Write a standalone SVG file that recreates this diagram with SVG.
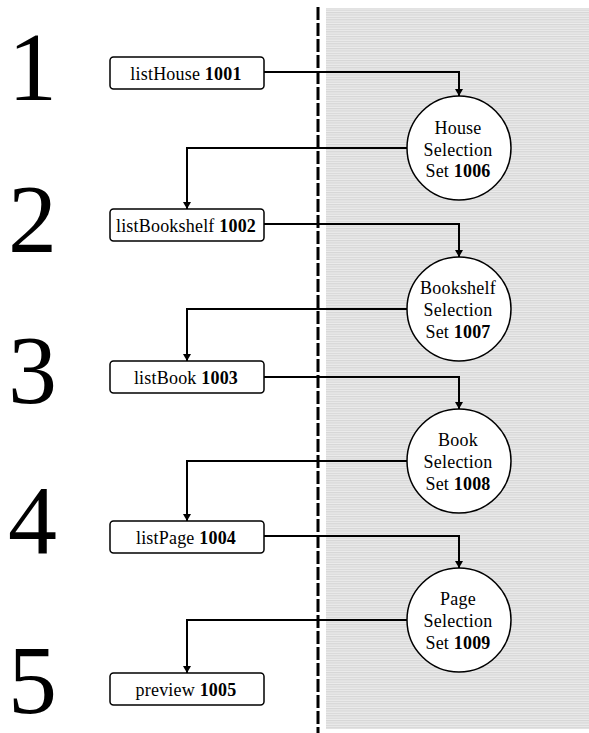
<svg xmlns="http://www.w3.org/2000/svg" width="589" height="733" viewBox="0 0 589 733">
<style>
.num{font-family:"Liberation Serif","Times New Roman",serif;font-size:98px;fill:#000}
.lbl{font-family:"Liberation Serif","Times New Roman",serif;font-size:18px;fill:#000;text-anchor:middle;letter-spacing:0.2px}
.box{fill:#fff;stroke:#000;stroke-width:1.5}
.circ{fill:#fff;stroke:#000;stroke-width:1.5}
.conn{fill:none;stroke:#000;stroke-width:2}
b,.b{font-weight:bold}
</style>
<defs>
<pattern id="stripes" x="0" y="0" width="4" height="2.4" patternUnits="userSpaceOnUse">
<rect x="0" y="0" width="4" height="2.4" fill="#ececec"/>
<rect x="0" y="0" width="4" height="1.2" fill="#d6d6d6"/>
</pattern>
<marker id="arr" markerWidth="8" markerHeight="8" refX="7" refY="4" orient="auto" markerUnits="userSpaceOnUse">
<path d="M0,0 L7,4 L0,8 Z" fill="#000"/>
</marker>
</defs>
<rect x="0" y="0" width="589" height="733" fill="#fff"/>
<rect x="326" y="8" width="263" height="721" fill="url(#stripes)"/>
<line x1="318" y1="7" x2="318" y2="733" stroke="#000" stroke-width="3" stroke-dasharray="13,3"/>

<g id="steps">
<text class="num" x="8" y="100">1</text>
<text class="num" x="8" y="252">2</text>
<text class="num" x="8" y="403">3</text>
<text class="num" x="8" y="553">4</text>
<text class="num" x="8" y="713">5</text>
</g>

<g id="connectors">
<path class="conn" d="M264 72 H459 V96" marker-end="url(#arr)"/>
<path class="conn" d="M407 148 H187 V209" marker-end="url(#arr)"/>
<path class="conn" d="M264 224 H459 V257" marker-end="url(#arr)"/>
<path class="conn" d="M407 309 H187 V361" marker-end="url(#arr)"/>
<path class="conn" d="M264 377 H459 V409" marker-end="url(#arr)"/>
<path class="conn" d="M407 461 H187 V521" marker-end="url(#arr)"/>
<path class="conn" d="M264 536 H459 V568" marker-end="url(#arr)"/>
<path class="conn" d="M407 620 H187 V673" marker-end="url(#arr)"/>
</g>

<g id="n1001">
<rect class="box" x="110" y="57" width="154" height="32" rx="3.5"/>
<text class="lbl" x="186" y="79.5">listHouse <tspan class="b">1001</tspan></text>
</g>
<g id="n1002">
<rect class="box" x="110" y="209" width="154" height="32" rx="3.5"/>
<text class="lbl" x="186" y="231.5">listBookshelf <tspan class="b">1002</tspan></text>
</g>
<g id="n1003">
<rect class="box" x="110" y="361" width="154" height="32" rx="3.5"/>
<text class="lbl" x="186" y="383.5">listBook <tspan class="b">1003</tspan></text>
</g>
<g id="n1004">
<rect class="box" x="110" y="521" width="154" height="32" rx="3.5"/>
<text class="lbl" x="186" y="543.5">listPage <tspan class="b">1004</tspan></text>
</g>
<g id="n1005">
<rect class="box" x="110" y="673" width="154" height="32" rx="3.5"/>
<text class="lbl" x="186" y="695.5">preview <tspan class="b">1005</tspan></text>
</g>

<g id="n1006">
<circle class="circ" cx="459" cy="148" r="52"/>
<text class="lbl" x="458" y="134">House</text>
<text class="lbl" x="458" y="156">Selection</text>
<text class="lbl" x="458" y="177">Set <tspan class="b">1006</tspan></text>
</g>
<g id="n1007">
<circle class="circ" cx="459" cy="309" r="52"/>
<text class="lbl" x="458" y="294">Bookshelf</text>
<text class="lbl" x="458" y="316">Selection</text>
<text class="lbl" x="458" y="337.5">Set <tspan class="b">1007</tspan></text>
</g>
<g id="n1008">
<circle class="circ" cx="459" cy="461" r="52"/>
<text class="lbl" x="458" y="446">Book</text>
<text class="lbl" x="458" y="468">Selection</text>
<text class="lbl" x="458" y="489.5">Set <tspan class="b">1008</tspan></text>
</g>
<g id="n1009">
<circle class="circ" cx="459" cy="620" r="52"/>
<text class="lbl" x="458" y="605">Page</text>
<text class="lbl" x="458" y="627">Selection</text>
<text class="lbl" x="458" y="648.5">Set <tspan class="b">1009</tspan></text>
</g>
</svg>
